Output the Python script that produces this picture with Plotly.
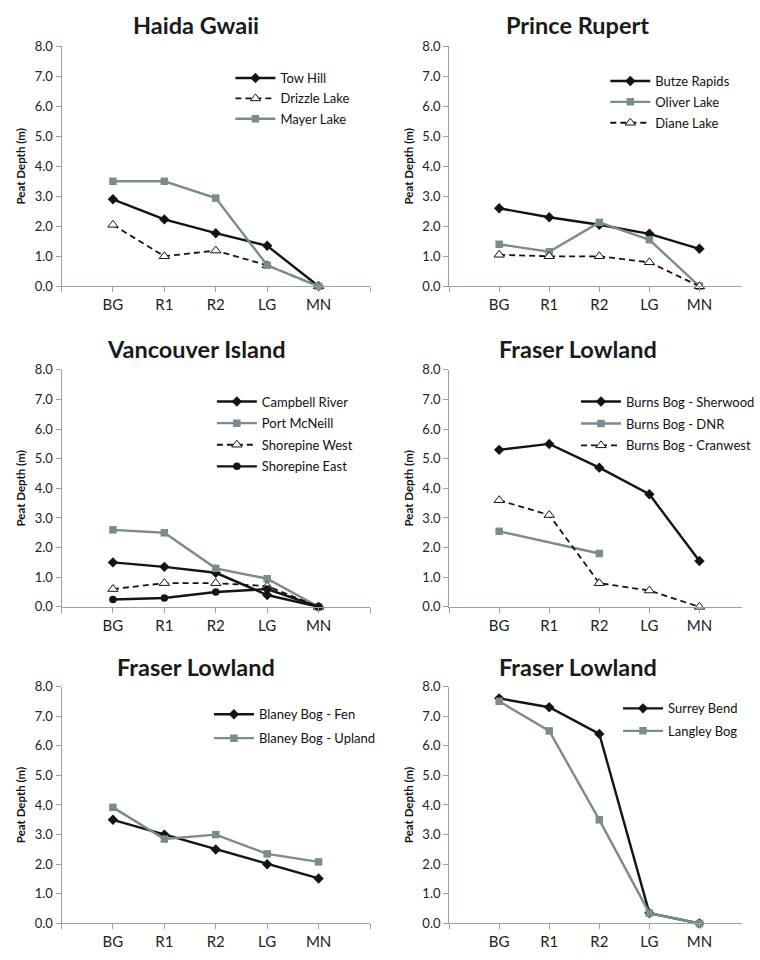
import plotly.graph_objects as go

categories = ["BG", "R1", "R2", "LG", "MN"]

# Haida Gwaii
tow_hill = [2.9, 2.23, 1.77, 1.35, 0.0]
drizzle_lake = [2.05, 1.0, 1.19, 0.7, 0.0]
mayer_lake = [3.5, 3.5, 2.94, 0.7, 0.0]

# Prince Rupert
butze_rapids = [2.6, 2.3, 2.05, 1.75, 1.25]
oliver_lake = [1.4, 1.15, 2.13, 1.55, 0.0]
diane_lake = [1.05, 1.0, 1.0, 0.8, 0.0]

# Vancouver Island
campbell_river = [1.5, 1.35, 1.15, 0.4, 0.0]
port_mcneill = [2.6, 2.5, 1.3, 0.95, 0.0]
shorepine_west = [0.6, 0.8, 0.8, 0.7, 0.0]
shorepine_east = [0.25, 0.3, 0.5, 0.6, 0.0]

# Fraser Lowland (Burns Bog)
burns_sherwood = [5.3, 5.5, 4.7, 3.8, 1.55]
burns_dnr = [2.55, None, 1.8, None, None]
burns_cranwest = [3.6, 3.1, 0.8, 0.55, 0.0]

# Fraser Lowland (Blaney Bog)
blaney_fen = [3.5, 3.0, 2.5, 2.0, 1.52]
blaney_upland = [3.92, 2.85, 3.0, 2.35, 2.08]

# Fraser Lowland (Surrey / Langley)
surrey_bend = [7.6, 7.3, 6.4, 0.35, 0.0]
langley_bog = [7.5, 6.5, 3.5, 0.35, 0.0]

BLACK = "#141414"
GRAY = "#7A8C8F"
AXIS = "#94A3AA"
FONT = "Lato"

STYLES = {
    "diamond": dict(line=dict(color=BLACK, width=2.4),
                    marker=dict(symbol="diamond", size=8, color=BLACK)),
    "square": dict(line=dict(color=GRAY, width=2.4),
                   marker=dict(symbol="square", size=7.5, color=GRAY)),
    "triangle": dict(line=dict(color=BLACK, width=1.8, dash="6px,4px"),
                     marker=dict(symbol="triangle-up", size=9, color="white",
                                 line=dict(color=BLACK, width=1))),
    "circle": dict(line=dict(color=BLACK, width=2.4),
                   marker=dict(symbol="circle", size=7.5, color=BLACK)),
}

panels = [
    ("Haida Gwaii", [("Tow Hill", tow_hill, "diamond"),
                     ("Drizzle Lake", drizzle_lake, "triangle"),
                     ("Mayer Lake", mayer_lake, "square")]),
    ("Prince Rupert", [("Butze Rapids", butze_rapids, "diamond"),
                       ("Oliver Lake", oliver_lake, "square"),
                       ("Diane Lake", diane_lake, "triangle")]),
    ("Vancouver Island", [("Campbell River", campbell_river, "diamond"),
                          ("Port McNeill", port_mcneill, "square"),
                          ("Shorepine West", shorepine_west, "triangle"),
                          ("Shorepine East", shorepine_east, "circle")]),
    ("Fraser Lowland", [("Burns Bog - Sherwood", burns_sherwood, "diamond"),
                        ("Burns Bog - DNR", burns_dnr, "square"),
                        ("Burns Bog - Cranwest", burns_cranwest, "triangle")]),
    ("Fraser Lowland", [("Blaney Bog - Fen", blaney_fen, "diamond"),
                        ("Blaney Bog - Upland", blaney_upland, "square")]),
    ("Fraser Lowland", [("Surrey Bend", surrey_bend, "diamond"),
                        ("Langley Bog", langley_bog, "square")]),
]

W, H = 760, 960
# pixel layout: (x_left, x_right, x_range_max, y_top, y_bottom,
#                legend_x, legend_y_top, legend_gap, title_x, title_y)
layout_px = [
    (63, 379, 5.0, 39, 283, 236, 56, 0.5, 201, 17),
    (460, 760, 4.85, 39, 283, 620, 59, 1.0, 591, 17),
    (63, 379, 5.0, 368, 609, 217, 385, 1.7, 201, 347),
    (460, 760, 4.85, 368, 609, 590, 385, 2.0, 592, 347),
    (63, 379, 5.0, 690, 931, 214, 703, 4.0, 201, 670),
    (460, 760, 4.85, 690, 931, 633, 697, 2.6, 592, 670),
]

fig = go.Figure()
idx = list(range(len(categories)))
annotations = []
layout_updates = {}

for i, ((title, series), px) in enumerate(zip(panels, layout_px)):
    xl, xr, xmax, yt, yb, lx, ly, lgap, tx, ty = px
    n = i + 1
    xa = "x" if n == 1 else f"x{n}"
    ya = "y" if n == 1 else f"y{n}"
    lg = "legend" if n == 1 else f"legend{n}"
    for j, (name, vals, style) in enumerate(series):
        st = STYLES[style]
        xs = [k for k, v in zip(idx, vals) if v is not None]
        ys = [v for v in vals if v is not None]
        fig.add_trace(go.Scatter(
            x=xs, y=ys, mode="lines+markers", name=name,
            line=st["line"], marker=st["marker"],
            xaxis=xa, yaxis=ya, legend=lg, legendgroup=f"p{n}s{j}",
            cliponaxis=False,
        ))
    tickvals = [-1] + idx + ([5] if xmax >= 5 else [])
    ticktext = [""] + categories + ([""] if xmax >= 5 else [])
    layout_updates["xaxis" if n == 1 else f"xaxis{n}"] = dict(
        domain=[xl / W, min(xr / W, 1.0)], range=[-1, xmax],
        anchor=ya, showgrid=False, zeroline=False, showline=True,
        linecolor=AXIS, linewidth=1, ticks="outside", ticklen=5,
        tickcolor=AXIS, tickvals=tickvals, ticktext=ticktext,
        tickfont=dict(family=FONT, size=15, color="#222"),
        fixedrange=True,
    )
    layout_updates["yaxis" if n == 1 else f"yaxis{n}"] = dict(
        domain=[1 - yb / H, 1 - yt / H], range=[0, 8], dtick=1,
        tickformat=".1f", anchor=xa, showgrid=False, zeroline=False,
        showline=True, linecolor=AXIS, linewidth=1, ticks="outside",
        ticklen=5, tickcolor=AXIS,
        tickfont=dict(family=FONT, size=13, color="#222"),
        title=dict(text="<b>Peat Depth (m)</b>",
                   font=dict(family=FONT, size=11.5, color="#111"), standoff=6),
        fixedrange=True,
    )
    layout_updates[lg] = dict(
        x=lx / W, y=1 - ly / H, xanchor="left", yanchor="top",
        bgcolor="rgba(0,0,0,0)", borderwidth=0,
        font=dict(family=FONT, size=13, color="#111"),
        itemwidth=40, tracegroupgap=lgap,
    )
    annotations.append(dict(
        text=f"<b>{title}</b>", x=tx / W, y=1 - ty / H, xref="paper", yref="paper",
        xanchor="center", yanchor="middle", showarrow=False,
        font=dict(family=FONT, size=23.5, color="#1a1a1a"),
    ))

fig.update_layout(
    width=W, height=H, margin=dict(l=0, r=0, t=0, b=0),
    paper_bgcolor="white", plot_bgcolor="white",
    showlegend=True, annotations=annotations, **layout_updates,
)

fig.write_html("out.html", config={"displayModeBar": False})
